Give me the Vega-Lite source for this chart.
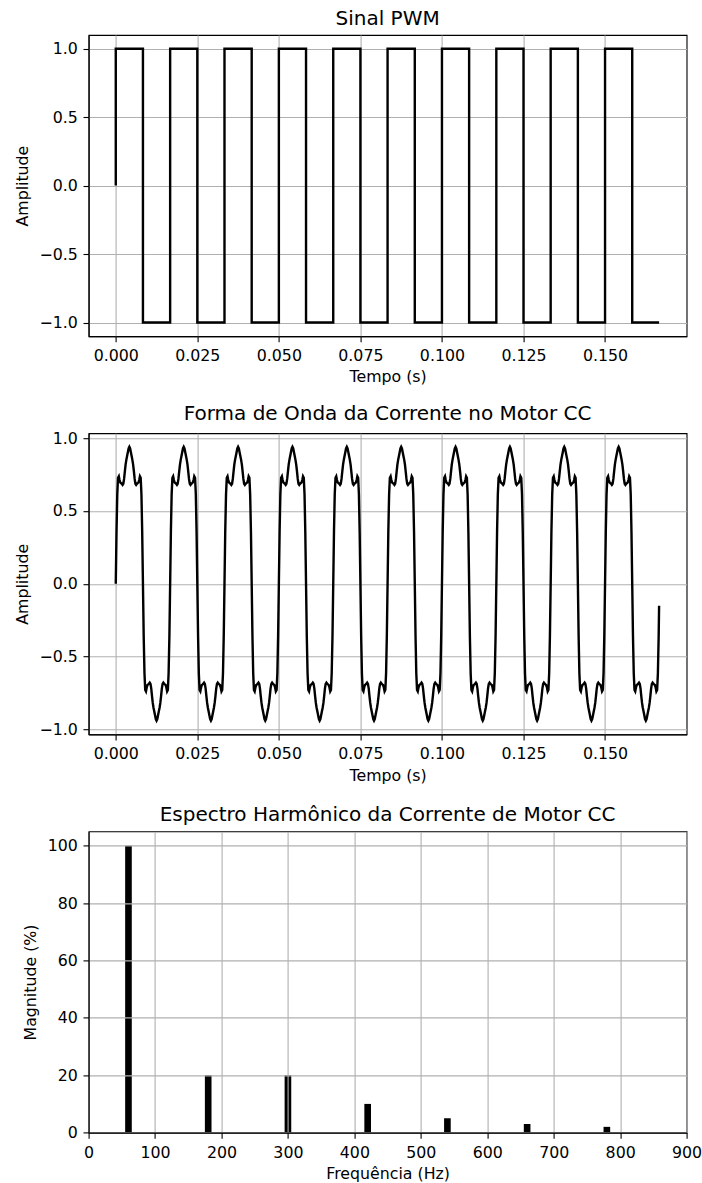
{
  "$schema": "https://vega.github.io/schema/vega-lite/v6.json",
  "background": "white",
  "padding": {"left": 12.6, "top": 8, "right": 12, "bottom": 8},
  "bounds": "flush",
  "spacing": 96.2,
  "config": {
    "font": "DejaVu Sans",
    "view": {"stroke": "black", "strokeWidth": 1.1},
    "axis": {
      "labelFont": "DejaVu Sans",
      "labelFontSize": 15.8,
      "labelColor": "black",
      "labelFlush": false,
      "labelOverlap": false,
      "titleFont": "DejaVu Sans",
      "titleFontSize": 15.8,
      "titleFontWeight": "normal",
      "titleColor": "black",
      "tickColor": "black",
      "tickSize": 5.6,
      "tickWidth": 1.1,
      "domainColor": "black",
      "domainWidth": 1.1,
      "gridColor": "#b0b0b0",
      "gridWidth": 1.1
    },
    "axisX": {"labelPadding": 7, "titlePadding": 6.3},
    "axisY": {"labelPadding": 5.6, "titlePadding": 9},
    "title": {
      "font": "DejaVu Sans",
      "fontSize": 20,
      "fontWeight": "normal",
      "color": "black",
      "baseline": "alphabetic",
      "offset": 6.3
    }
  },
  "datasets": {
    "pwm": [
      {"t":0,"v":0},{"t":0,"v":1},{"t":0.00833,"v":-1},{"t":0.01667,"v":1},{"t":0.025,"v":-1},{"t":0.03333,"v":1},{"t":0.04167,"v":-1},{"t":0.05,"v":1},{"t":0.05833,"v":-1},{"t":0.06667,"v":1},{"t":0.075,"v":-1},{"t":0.08333,"v":1},{"t":0.09167,"v":-1},{"t":0.1,"v":1},{"t":0.10833,"v":-1},{"t":0.11667,"v":1},{"t":0.125,"v":-1},{"t":0.13333,"v":1},{"t":0.14167,"v":-1},{"t":0.15,"v":1},{"t":0.15833,"v":-1},{"t":0.16657,"v":-1}
    ],
    "corrente": [
      {"t":0,"a":0},{"t":0.00023,"a":0.359},{"t":0.00046,"a":0.614},{"t":0.00069,"a":0.728},{"t":0.00093,"a":0.738},{"t":0.00116,"a":0.712},{"t":0.00139,"a":0.695},{"t":0.00162,"a":0.691},{"t":0.00185,"a":0.686},{"t":0.00208,"a":0.679},{"t":0.00231,"a":0.687},{"t":0.00255,"a":0.72},{"t":0.00278,"a":0.771},{"t":0.00301,"a":0.818},{"t":0.00324,"a":0.851},{"t":0.00347,"a":0.877},{"t":0.0037,"a":0.903},{"t":0.00394,"a":0.929},{"t":0.00417,"a":0.94},{"t":0.0044,"a":0.929},{"t":0.00463,"a":0.903},{"t":0.00486,"a":0.877},{"t":0.00509,"a":0.851},{"t":0.00532,"a":0.818},{"t":0.00556,"a":0.771},{"t":0.00579,"a":0.72},{"t":0.00602,"a":0.687},{"t":0.00625,"a":0.679},{"t":0.00648,"a":0.686},{"t":0.00671,"a":0.691},{"t":0.00694,"a":0.695},{"t":0.00718,"a":0.712},{"t":0.00741,"a":0.738},{"t":0.00764,"a":0.728},{"t":0.00787,"a":0.614},{"t":0.0081,"a":0.359},
      {"t":0.00833,"a":0},{"t":0.00856,"a":-0.359},{"t":0.0088,"a":-0.614},{"t":0.00903,"a":-0.728},{"t":0.00926,"a":-0.738},{"t":0.00949,"a":-0.712},{"t":0.00972,"a":-0.695},{"t":0.00995,"a":-0.691},{"t":0.01019,"a":-0.686},{"t":0.01042,"a":-0.679},{"t":0.01065,"a":-0.687},{"t":0.01088,"a":-0.72},{"t":0.01111,"a":-0.771},{"t":0.01134,"a":-0.818},{"t":0.01157,"a":-0.851},{"t":0.01181,"a":-0.877},{"t":0.01204,"a":-0.903},{"t":0.01227,"a":-0.929},{"t":0.0125,"a":-0.94},{"t":0.01273,"a":-0.929},{"t":0.01296,"a":-0.903},{"t":0.01319,"a":-0.877},{"t":0.01343,"a":-0.851},{"t":0.01366,"a":-0.818},{"t":0.01389,"a":-0.771},{"t":0.01412,"a":-0.72},{"t":0.01435,"a":-0.687},{"t":0.01458,"a":-0.679},{"t":0.01481,"a":-0.686},{"t":0.01505,"a":-0.691},{"t":0.01528,"a":-0.695},{"t":0.01551,"a":-0.712},{"t":0.01574,"a":-0.738},{"t":0.01597,"a":-0.728},{"t":0.0162,"a":-0.614},{"t":0.01644,"a":-0.359},
      {"t":0.01667,"a":0},{"t":0.0169,"a":0.359},{"t":0.01713,"a":0.614},{"t":0.01736,"a":0.728},{"t":0.01759,"a":0.738},{"t":0.01782,"a":0.712},{"t":0.01806,"a":0.695},{"t":0.01829,"a":0.691},{"t":0.01852,"a":0.686},{"t":0.01875,"a":0.679},{"t":0.01898,"a":0.687},{"t":0.01921,"a":0.72},{"t":0.01944,"a":0.771},{"t":0.01968,"a":0.818},{"t":0.01991,"a":0.851},{"t":0.02014,"a":0.877},{"t":0.02037,"a":0.903},{"t":0.0206,"a":0.929},{"t":0.02083,"a":0.94},{"t":0.02106,"a":0.929},{"t":0.0213,"a":0.903},{"t":0.02153,"a":0.877},{"t":0.02176,"a":0.851},{"t":0.02199,"a":0.818},{"t":0.02222,"a":0.771},{"t":0.02245,"a":0.72},{"t":0.02269,"a":0.687},{"t":0.02292,"a":0.679},{"t":0.02315,"a":0.686},{"t":0.02338,"a":0.691},{"t":0.02361,"a":0.695},{"t":0.02384,"a":0.712},{"t":0.02407,"a":0.738},{"t":0.02431,"a":0.728},{"t":0.02454,"a":0.614},{"t":0.02477,"a":0.359},
      {"t":0.025,"a":0},{"t":0.02523,"a":-0.359},{"t":0.02546,"a":-0.614},{"t":0.02569,"a":-0.728},{"t":0.02593,"a":-0.738},{"t":0.02616,"a":-0.712},{"t":0.02639,"a":-0.695},{"t":0.02662,"a":-0.691},{"t":0.02685,"a":-0.686},{"t":0.02708,"a":-0.679},{"t":0.02731,"a":-0.687},{"t":0.02755,"a":-0.72},{"t":0.02778,"a":-0.771},{"t":0.02801,"a":-0.818},{"t":0.02824,"a":-0.851},{"t":0.02847,"a":-0.877},{"t":0.0287,"a":-0.903},{"t":0.02894,"a":-0.929},{"t":0.02917,"a":-0.94},{"t":0.0294,"a":-0.929},{"t":0.02963,"a":-0.903},{"t":0.02986,"a":-0.877},{"t":0.03009,"a":-0.851},{"t":0.03032,"a":-0.818},{"t":0.03056,"a":-0.771},{"t":0.03079,"a":-0.72},{"t":0.03102,"a":-0.687},{"t":0.03125,"a":-0.679},{"t":0.03148,"a":-0.686},{"t":0.03171,"a":-0.691},{"t":0.03194,"a":-0.695},{"t":0.03218,"a":-0.712},{"t":0.03241,"a":-0.738},{"t":0.03264,"a":-0.728},{"t":0.03287,"a":-0.614},{"t":0.0331,"a":-0.359},
      {"t":0.03333,"a":0},{"t":0.03356,"a":0.359},{"t":0.0338,"a":0.614},{"t":0.03403,"a":0.728},{"t":0.03426,"a":0.738},{"t":0.03449,"a":0.712},{"t":0.03472,"a":0.695},{"t":0.03495,"a":0.691},{"t":0.03519,"a":0.686},{"t":0.03542,"a":0.679},{"t":0.03565,"a":0.687},{"t":0.03588,"a":0.72},{"t":0.03611,"a":0.771},{"t":0.03634,"a":0.818},{"t":0.03657,"a":0.851},{"t":0.03681,"a":0.877},{"t":0.03704,"a":0.903},{"t":0.03727,"a":0.929},{"t":0.0375,"a":0.94},{"t":0.03773,"a":0.929},{"t":0.03796,"a":0.903},{"t":0.03819,"a":0.877},{"t":0.03843,"a":0.851},{"t":0.03866,"a":0.818},{"t":0.03889,"a":0.771},{"t":0.03912,"a":0.72},{"t":0.03935,"a":0.687},{"t":0.03958,"a":0.679},{"t":0.03981,"a":0.686},{"t":0.04005,"a":0.691},{"t":0.04028,"a":0.695},{"t":0.04051,"a":0.712},{"t":0.04074,"a":0.738},{"t":0.04097,"a":0.728},{"t":0.0412,"a":0.614},{"t":0.04144,"a":0.359},
      {"t":0.04167,"a":0},{"t":0.0419,"a":-0.359},{"t":0.04213,"a":-0.614},{"t":0.04236,"a":-0.728},{"t":0.04259,"a":-0.738},{"t":0.04282,"a":-0.712},{"t":0.04306,"a":-0.695},{"t":0.04329,"a":-0.691},{"t":0.04352,"a":-0.686},{"t":0.04375,"a":-0.679},{"t":0.04398,"a":-0.687},{"t":0.04421,"a":-0.72},{"t":0.04444,"a":-0.771},{"t":0.04468,"a":-0.818},{"t":0.04491,"a":-0.851},{"t":0.04514,"a":-0.877},{"t":0.04537,"a":-0.903},{"t":0.0456,"a":-0.929},{"t":0.04583,"a":-0.94},{"t":0.04606,"a":-0.929},{"t":0.0463,"a":-0.903},{"t":0.04653,"a":-0.877},{"t":0.04676,"a":-0.851},{"t":0.04699,"a":-0.818},{"t":0.04722,"a":-0.771},{"t":0.04745,"a":-0.72},{"t":0.04769,"a":-0.687},{"t":0.04792,"a":-0.679},{"t":0.04815,"a":-0.686},{"t":0.04838,"a":-0.691},{"t":0.04861,"a":-0.695},{"t":0.04884,"a":-0.712},{"t":0.04907,"a":-0.738},{"t":0.04931,"a":-0.728},{"t":0.04954,"a":-0.614},{"t":0.04977,"a":-0.359},
      {"t":0.05,"a":0},{"t":0.05023,"a":0.359},{"t":0.05046,"a":0.614},{"t":0.05069,"a":0.728},{"t":0.05093,"a":0.738},{"t":0.05116,"a":0.712},{"t":0.05139,"a":0.695},{"t":0.05162,"a":0.691},{"t":0.05185,"a":0.686},{"t":0.05208,"a":0.679},{"t":0.05231,"a":0.687},{"t":0.05255,"a":0.72},{"t":0.05278,"a":0.771},{"t":0.05301,"a":0.818},{"t":0.05324,"a":0.851},{"t":0.05347,"a":0.877},{"t":0.0537,"a":0.903},{"t":0.05394,"a":0.929},{"t":0.05417,"a":0.94},{"t":0.0544,"a":0.929},{"t":0.05463,"a":0.903},{"t":0.05486,"a":0.877},{"t":0.05509,"a":0.851},{"t":0.05532,"a":0.818},{"t":0.05556,"a":0.771},{"t":0.05579,"a":0.72},{"t":0.05602,"a":0.687},{"t":0.05625,"a":0.679},{"t":0.05648,"a":0.686},{"t":0.05671,"a":0.691},{"t":0.05694,"a":0.695},{"t":0.05718,"a":0.712},{"t":0.05741,"a":0.738},{"t":0.05764,"a":0.728},{"t":0.05787,"a":0.614},{"t":0.0581,"a":0.359},
      {"t":0.05833,"a":0},{"t":0.05856,"a":-0.359},{"t":0.0588,"a":-0.614},{"t":0.05903,"a":-0.728},{"t":0.05926,"a":-0.738},{"t":0.05949,"a":-0.712},{"t":0.05972,"a":-0.695},{"t":0.05995,"a":-0.691},{"t":0.06019,"a":-0.686},{"t":0.06042,"a":-0.679},{"t":0.06065,"a":-0.687},{"t":0.06088,"a":-0.72},{"t":0.06111,"a":-0.771},{"t":0.06134,"a":-0.818},{"t":0.06157,"a":-0.851},{"t":0.06181,"a":-0.877},{"t":0.06204,"a":-0.903},{"t":0.06227,"a":-0.929},{"t":0.0625,"a":-0.94},{"t":0.06273,"a":-0.929},{"t":0.06296,"a":-0.903},{"t":0.06319,"a":-0.877},{"t":0.06343,"a":-0.851},{"t":0.06366,"a":-0.818},{"t":0.06389,"a":-0.771},{"t":0.06412,"a":-0.72},{"t":0.06435,"a":-0.687},{"t":0.06458,"a":-0.679},{"t":0.06481,"a":-0.686},{"t":0.06505,"a":-0.691},{"t":0.06528,"a":-0.695},{"t":0.06551,"a":-0.712},{"t":0.06574,"a":-0.738},{"t":0.06597,"a":-0.728},{"t":0.0662,"a":-0.614},{"t":0.06644,"a":-0.359},
      {"t":0.06667,"a":0},{"t":0.0669,"a":0.359},{"t":0.06713,"a":0.614},{"t":0.06736,"a":0.728},{"t":0.06759,"a":0.738},{"t":0.06782,"a":0.712},{"t":0.06806,"a":0.695},{"t":0.06829,"a":0.691},{"t":0.06852,"a":0.686},{"t":0.06875,"a":0.679},{"t":0.06898,"a":0.687},{"t":0.06921,"a":0.72},{"t":0.06944,"a":0.771},{"t":0.06968,"a":0.818},{"t":0.06991,"a":0.851},{"t":0.07014,"a":0.877},{"t":0.07037,"a":0.903},{"t":0.0706,"a":0.929},{"t":0.07083,"a":0.94},{"t":0.07106,"a":0.929},{"t":0.0713,"a":0.903},{"t":0.07153,"a":0.877},{"t":0.07176,"a":0.851},{"t":0.07199,"a":0.818},{"t":0.07222,"a":0.771},{"t":0.07245,"a":0.72},{"t":0.07269,"a":0.687},{"t":0.07292,"a":0.679},{"t":0.07315,"a":0.686},{"t":0.07338,"a":0.691},{"t":0.07361,"a":0.695},{"t":0.07384,"a":0.712},{"t":0.07407,"a":0.738},{"t":0.07431,"a":0.728},{"t":0.07454,"a":0.614},{"t":0.07477,"a":0.359},
      {"t":0.075,"a":0},{"t":0.07523,"a":-0.359},{"t":0.07546,"a":-0.614},{"t":0.07569,"a":-0.728},{"t":0.07593,"a":-0.738},{"t":0.07616,"a":-0.712},{"t":0.07639,"a":-0.695},{"t":0.07662,"a":-0.691},{"t":0.07685,"a":-0.686},{"t":0.07708,"a":-0.679},{"t":0.07731,"a":-0.687},{"t":0.07755,"a":-0.72},{"t":0.07778,"a":-0.771},{"t":0.07801,"a":-0.818},{"t":0.07824,"a":-0.851},{"t":0.07847,"a":-0.877},{"t":0.0787,"a":-0.903},{"t":0.07894,"a":-0.929},{"t":0.07917,"a":-0.94},{"t":0.0794,"a":-0.929},{"t":0.07963,"a":-0.903},{"t":0.07986,"a":-0.877},{"t":0.08009,"a":-0.851},{"t":0.08032,"a":-0.818},{"t":0.08056,"a":-0.771},{"t":0.08079,"a":-0.72},{"t":0.08102,"a":-0.687},{"t":0.08125,"a":-0.679},{"t":0.08148,"a":-0.686},{"t":0.08171,"a":-0.691},{"t":0.08194,"a":-0.695},{"t":0.08218,"a":-0.712},{"t":0.08241,"a":-0.738},{"t":0.08264,"a":-0.728},{"t":0.08287,"a":-0.614},{"t":0.0831,"a":-0.359},
      {"t":0.08333,"a":0},{"t":0.08356,"a":0.359},{"t":0.0838,"a":0.614},{"t":0.08403,"a":0.728},{"t":0.08426,"a":0.738},{"t":0.08449,"a":0.712},{"t":0.08472,"a":0.695},{"t":0.08495,"a":0.691},{"t":0.08519,"a":0.686},{"t":0.08542,"a":0.679},{"t":0.08565,"a":0.687},{"t":0.08588,"a":0.72},{"t":0.08611,"a":0.771},{"t":0.08634,"a":0.818},{"t":0.08657,"a":0.851},{"t":0.08681,"a":0.877},{"t":0.08704,"a":0.903},{"t":0.08727,"a":0.929},{"t":0.0875,"a":0.94},{"t":0.08773,"a":0.929},{"t":0.08796,"a":0.903},{"t":0.08819,"a":0.877},{"t":0.08843,"a":0.851},{"t":0.08866,"a":0.818},{"t":0.08889,"a":0.771},{"t":0.08912,"a":0.72},{"t":0.08935,"a":0.687},{"t":0.08958,"a":0.679},{"t":0.08981,"a":0.686},{"t":0.09005,"a":0.691},{"t":0.09028,"a":0.695},{"t":0.09051,"a":0.712},{"t":0.09074,"a":0.738},{"t":0.09097,"a":0.728},{"t":0.0912,"a":0.614},{"t":0.09144,"a":0.359},
      {"t":0.09167,"a":0},{"t":0.0919,"a":-0.359},{"t":0.09213,"a":-0.614},{"t":0.09236,"a":-0.728},{"t":0.09259,"a":-0.738},{"t":0.09282,"a":-0.712},{"t":0.09306,"a":-0.695},{"t":0.09329,"a":-0.691},{"t":0.09352,"a":-0.686},{"t":0.09375,"a":-0.679},{"t":0.09398,"a":-0.687},{"t":0.09421,"a":-0.72},{"t":0.09444,"a":-0.771},{"t":0.09468,"a":-0.818},{"t":0.09491,"a":-0.851},{"t":0.09514,"a":-0.877},{"t":0.09537,"a":-0.903},{"t":0.0956,"a":-0.929},{"t":0.09583,"a":-0.94},{"t":0.09606,"a":-0.929},{"t":0.0963,"a":-0.903},{"t":0.09653,"a":-0.877},{"t":0.09676,"a":-0.851},{"t":0.09699,"a":-0.818},{"t":0.09722,"a":-0.771},{"t":0.09745,"a":-0.72},{"t":0.09769,"a":-0.687},{"t":0.09792,"a":-0.679},{"t":0.09815,"a":-0.686},{"t":0.09838,"a":-0.691},{"t":0.09861,"a":-0.695},{"t":0.09884,"a":-0.712},{"t":0.09907,"a":-0.738},{"t":0.09931,"a":-0.728},{"t":0.09954,"a":-0.614},{"t":0.09977,"a":-0.359},
      {"t":0.1,"a":0},{"t":0.10023,"a":0.359},{"t":0.10046,"a":0.614},{"t":0.10069,"a":0.728},{"t":0.10093,"a":0.738},{"t":0.10116,"a":0.712},{"t":0.10139,"a":0.695},{"t":0.10162,"a":0.691},{"t":0.10185,"a":0.686},{"t":0.10208,"a":0.679},{"t":0.10231,"a":0.687},{"t":0.10255,"a":0.72},{"t":0.10278,"a":0.771},{"t":0.10301,"a":0.818},{"t":0.10324,"a":0.851},{"t":0.10347,"a":0.877},{"t":0.1037,"a":0.903},{"t":0.10394,"a":0.929},{"t":0.10417,"a":0.94},{"t":0.1044,"a":0.929},{"t":0.10463,"a":0.903},{"t":0.10486,"a":0.877},{"t":0.10509,"a":0.851},{"t":0.10532,"a":0.818},{"t":0.10556,"a":0.771},{"t":0.10579,"a":0.72},{"t":0.10602,"a":0.687},{"t":0.10625,"a":0.679},{"t":0.10648,"a":0.686},{"t":0.10671,"a":0.691},{"t":0.10694,"a":0.695},{"t":0.10718,"a":0.712},{"t":0.10741,"a":0.738},{"t":0.10764,"a":0.728},{"t":0.10787,"a":0.614},{"t":0.1081,"a":0.359},
      {"t":0.10833,"a":0},{"t":0.10856,"a":-0.359},{"t":0.1088,"a":-0.614},{"t":0.10903,"a":-0.728},{"t":0.10926,"a":-0.738},{"t":0.10949,"a":-0.712},{"t":0.10972,"a":-0.695},{"t":0.10995,"a":-0.691},{"t":0.11019,"a":-0.686},{"t":0.11042,"a":-0.679},{"t":0.11065,"a":-0.687},{"t":0.11088,"a":-0.72},{"t":0.11111,"a":-0.771},{"t":0.11134,"a":-0.818},{"t":0.11157,"a":-0.851},{"t":0.11181,"a":-0.877},{"t":0.11204,"a":-0.903},{"t":0.11227,"a":-0.929},{"t":0.1125,"a":-0.94},{"t":0.11273,"a":-0.929},{"t":0.11296,"a":-0.903},{"t":0.11319,"a":-0.877},{"t":0.11343,"a":-0.851},{"t":0.11366,"a":-0.818},{"t":0.11389,"a":-0.771},{"t":0.11412,"a":-0.72},{"t":0.11435,"a":-0.687},{"t":0.11458,"a":-0.679},{"t":0.11481,"a":-0.686},{"t":0.11505,"a":-0.691},{"t":0.11528,"a":-0.695},{"t":0.11551,"a":-0.712},{"t":0.11574,"a":-0.738},{"t":0.11597,"a":-0.728},{"t":0.1162,"a":-0.614},{"t":0.11644,"a":-0.359},
      {"t":0.11667,"a":0},{"t":0.1169,"a":0.359},{"t":0.11713,"a":0.614},{"t":0.11736,"a":0.728},{"t":0.11759,"a":0.738},{"t":0.11782,"a":0.712},{"t":0.11806,"a":0.695},{"t":0.11829,"a":0.691},{"t":0.11852,"a":0.686},{"t":0.11875,"a":0.679},{"t":0.11898,"a":0.687},{"t":0.11921,"a":0.72},{"t":0.11944,"a":0.771},{"t":0.11968,"a":0.818},{"t":0.11991,"a":0.851},{"t":0.12014,"a":0.877},{"t":0.12037,"a":0.903},{"t":0.1206,"a":0.929},{"t":0.12083,"a":0.94},{"t":0.12106,"a":0.929},{"t":0.1213,"a":0.903},{"t":0.12153,"a":0.877},{"t":0.12176,"a":0.851},{"t":0.12199,"a":0.818},{"t":0.12222,"a":0.771},{"t":0.12245,"a":0.72},{"t":0.12269,"a":0.687},{"t":0.12292,"a":0.679},{"t":0.12315,"a":0.686},{"t":0.12338,"a":0.691},{"t":0.12361,"a":0.695},{"t":0.12384,"a":0.712},{"t":0.12407,"a":0.738},{"t":0.12431,"a":0.728},{"t":0.12454,"a":0.614},{"t":0.12477,"a":0.359},
      {"t":0.125,"a":0},{"t":0.12523,"a":-0.359},{"t":0.12546,"a":-0.614},{"t":0.12569,"a":-0.728},{"t":0.12593,"a":-0.738},{"t":0.12616,"a":-0.712},{"t":0.12639,"a":-0.695},{"t":0.12662,"a":-0.691},{"t":0.12685,"a":-0.686},{"t":0.12708,"a":-0.679},{"t":0.12731,"a":-0.687},{"t":0.12755,"a":-0.72},{"t":0.12778,"a":-0.771},{"t":0.12801,"a":-0.818},{"t":0.12824,"a":-0.851},{"t":0.12847,"a":-0.877},{"t":0.1287,"a":-0.903},{"t":0.12894,"a":-0.929},{"t":0.12917,"a":-0.94},{"t":0.1294,"a":-0.929},{"t":0.12963,"a":-0.903},{"t":0.12986,"a":-0.877},{"t":0.13009,"a":-0.851},{"t":0.13032,"a":-0.818},{"t":0.13056,"a":-0.771},{"t":0.13079,"a":-0.72},{"t":0.13102,"a":-0.687},{"t":0.13125,"a":-0.679},{"t":0.13148,"a":-0.686},{"t":0.13171,"a":-0.691},{"t":0.13194,"a":-0.695},{"t":0.13218,"a":-0.712},{"t":0.13241,"a":-0.738},{"t":0.13264,"a":-0.728},{"t":0.13287,"a":-0.614},{"t":0.1331,"a":-0.359},
      {"t":0.13333,"a":0},{"t":0.13356,"a":0.359},{"t":0.1338,"a":0.614},{"t":0.13403,"a":0.728},{"t":0.13426,"a":0.738},{"t":0.13449,"a":0.712},{"t":0.13472,"a":0.695},{"t":0.13495,"a":0.691},{"t":0.13519,"a":0.686},{"t":0.13542,"a":0.679},{"t":0.13565,"a":0.687},{"t":0.13588,"a":0.72},{"t":0.13611,"a":0.771},{"t":0.13634,"a":0.818},{"t":0.13657,"a":0.851},{"t":0.13681,"a":0.877},{"t":0.13704,"a":0.903},{"t":0.13727,"a":0.929},{"t":0.1375,"a":0.94},{"t":0.13773,"a":0.929},{"t":0.13796,"a":0.903},{"t":0.13819,"a":0.877},{"t":0.13843,"a":0.851},{"t":0.13866,"a":0.818},{"t":0.13889,"a":0.771},{"t":0.13912,"a":0.72},{"t":0.13935,"a":0.687},{"t":0.13958,"a":0.679},{"t":0.13981,"a":0.686},{"t":0.14005,"a":0.691},{"t":0.14028,"a":0.695},{"t":0.14051,"a":0.712},{"t":0.14074,"a":0.738},{"t":0.14097,"a":0.728},{"t":0.1412,"a":0.614},{"t":0.14144,"a":0.359},
      {"t":0.14167,"a":0},{"t":0.1419,"a":-0.359},{"t":0.14213,"a":-0.614},{"t":0.14236,"a":-0.728},{"t":0.14259,"a":-0.738},{"t":0.14282,"a":-0.712},{"t":0.14306,"a":-0.695},{"t":0.14329,"a":-0.691},{"t":0.14352,"a":-0.686},{"t":0.14375,"a":-0.679},{"t":0.14398,"a":-0.687},{"t":0.14421,"a":-0.72},{"t":0.14444,"a":-0.771},{"t":0.14468,"a":-0.818},{"t":0.14491,"a":-0.851},{"t":0.14514,"a":-0.877},{"t":0.14537,"a":-0.903},{"t":0.1456,"a":-0.929},{"t":0.14583,"a":-0.94},{"t":0.14606,"a":-0.929},{"t":0.1463,"a":-0.903},{"t":0.14653,"a":-0.877},{"t":0.14676,"a":-0.851},{"t":0.14699,"a":-0.818},{"t":0.14722,"a":-0.771},{"t":0.14745,"a":-0.72},{"t":0.14769,"a":-0.687},{"t":0.14792,"a":-0.679},{"t":0.14815,"a":-0.686},{"t":0.14838,"a":-0.691},{"t":0.14861,"a":-0.695},{"t":0.14884,"a":-0.712},{"t":0.14907,"a":-0.738},{"t":0.14931,"a":-0.728},{"t":0.14954,"a":-0.614},{"t":0.14977,"a":-0.359},
      {"t":0.15,"a":0},{"t":0.15023,"a":0.359},{"t":0.15046,"a":0.614},{"t":0.15069,"a":0.728},{"t":0.15093,"a":0.738},{"t":0.15116,"a":0.712},{"t":0.15139,"a":0.695},{"t":0.15162,"a":0.691},{"t":0.15185,"a":0.686},{"t":0.15208,"a":0.679},{"t":0.15231,"a":0.687},{"t":0.15255,"a":0.72},{"t":0.15278,"a":0.771},{"t":0.15301,"a":0.818},{"t":0.15324,"a":0.851},{"t":0.15347,"a":0.877},{"t":0.1537,"a":0.903},{"t":0.15394,"a":0.929},{"t":0.15417,"a":0.94},{"t":0.1544,"a":0.929},{"t":0.15463,"a":0.903},{"t":0.15486,"a":0.877},{"t":0.15509,"a":0.851},{"t":0.15532,"a":0.818},{"t":0.15556,"a":0.771},{"t":0.15579,"a":0.72},{"t":0.15602,"a":0.687},{"t":0.15625,"a":0.679},{"t":0.15648,"a":0.686},{"t":0.15671,"a":0.691},{"t":0.15694,"a":0.695},{"t":0.15718,"a":0.712},{"t":0.15741,"a":0.738},{"t":0.15764,"a":0.728},{"t":0.15787,"a":0.614},{"t":0.1581,"a":0.359},
      {"t":0.15833,"a":0},{"t":0.15856,"a":-0.359},{"t":0.1588,"a":-0.614},{"t":0.15903,"a":-0.728},{"t":0.15926,"a":-0.738},{"t":0.15949,"a":-0.712},{"t":0.15972,"a":-0.695},{"t":0.15995,"a":-0.691},{"t":0.16019,"a":-0.686},{"t":0.16042,"a":-0.679},{"t":0.16065,"a":-0.687},{"t":0.16088,"a":-0.72},{"t":0.16111,"a":-0.771},{"t":0.16134,"a":-0.818},{"t":0.16157,"a":-0.851},{"t":0.16181,"a":-0.877},{"t":0.16204,"a":-0.903},{"t":0.16227,"a":-0.929},{"t":0.1625,"a":-0.94},{"t":0.16273,"a":-0.929},{"t":0.16296,"a":-0.903},{"t":0.16319,"a":-0.877},{"t":0.16343,"a":-0.851},{"t":0.16366,"a":-0.818},{"t":0.16389,"a":-0.771},{"t":0.16412,"a":-0.72},{"t":0.16435,"a":-0.687},{"t":0.16458,"a":-0.679},{"t":0.16481,"a":-0.686},{"t":0.16505,"a":-0.691},{"t":0.16528,"a":-0.695},{"t":0.16551,"a":-0.712},{"t":0.16574,"a":-0.738},{"t":0.16597,"a":-0.728},{"t":0.1662,"a":-0.614},{"t":0.16644,"a":-0.359},
      {"t":0.16657,"a":-0.15}
    ],
    "espectro": [
      {"f":60,"m":100},{"f":180,"m":20},{"f":300,"m":20},{"f":420,"m":10},{"f":540,"m":5},{"f":660,"m":3},{"f":780,"m":2}
    ]
  },
  "vconcat": [
    {
      "title": "Sinal PWM",
      "width": 598,
      "height": 301.2,
      "data": {"name": "pwm"},
      "mark": {"type": "line", "color": "black", "strokeWidth": 2.4, "interpolate": "step-after"},
      "encoding": {
        "x": {
          "field": "t", "type": "quantitative",
          "scale": {"domain": [-0.00833, 0.175], "nice": false, "zero": false},
          "axis": {"title": "Tempo (s)", "values": [0, 0.025, 0.05, 0.075, 0.1, 0.125, 0.15], "format": ".3f"}
        },
        "y": {
          "field": "v", "type": "quantitative",
          "scale": {"domain": [-1.1, 1.1], "nice": false, "zero": false},
          "axis": {"title": "Amplitude", "values": [-1, -0.5, 0, 0.5, 1], "format": ".1f"}
        },
        "order": {"value": null}
      }
    },
    {
      "title": "Forma de Onda da Corrente no Motor CC",
      "width": 598,
      "height": 301.2,
      "data": {"name": "corrente"},
      "mark": {"type": "line", "color": "black", "strokeWidth": 2.4},
      "encoding": {
        "x": {
          "field": "t", "type": "quantitative",
          "scale": {"domain": [-0.00833, 0.175], "nice": false, "zero": false},
          "axis": {"title": "Tempo (s)", "values": [0, 0.025, 0.05, 0.075, 0.1, 0.125, 0.15], "format": ".3f"}
        },
        "y": {
          "field": "a", "type": "quantitative",
          "scale": {"domain": [-1.034, 1.034], "nice": false, "zero": false},
          "axis": {"title": "Amplitude", "values": [-1, -0.5, 0, 0.5, 1], "format": ".1f"}
        },
        "order": {"value": null}
      }
    },
    {
      "title": "Espectro Harmônico da Corrente de Motor CC",
      "width": 598,
      "height": 301.2,
      "data": {"name": "espectro"},
      "mark": {"type": "bar", "color": "black", "width": 6.64},
      "encoding": {
        "x": {
          "field": "f", "type": "quantitative",
          "scale": {"domain": [0, 900], "nice": false, "padding": 0},
          "axis": {"title": "Frequência (Hz)", "values": [0, 100, 200, 300, 400, 500, 600, 700, 800, 900], "format": "d", "zindex": 1}
        },
        "y": {
          "field": "m", "type": "quantitative",
          "scale": {"domain": [0, 105], "nice": false},
          "axis": {"title": "Magnitude (%)", "values": [0, 20, 40, 60, 80, 100], "format": "d", "zindex": 1}
        }
      }
    }
  ]
}
